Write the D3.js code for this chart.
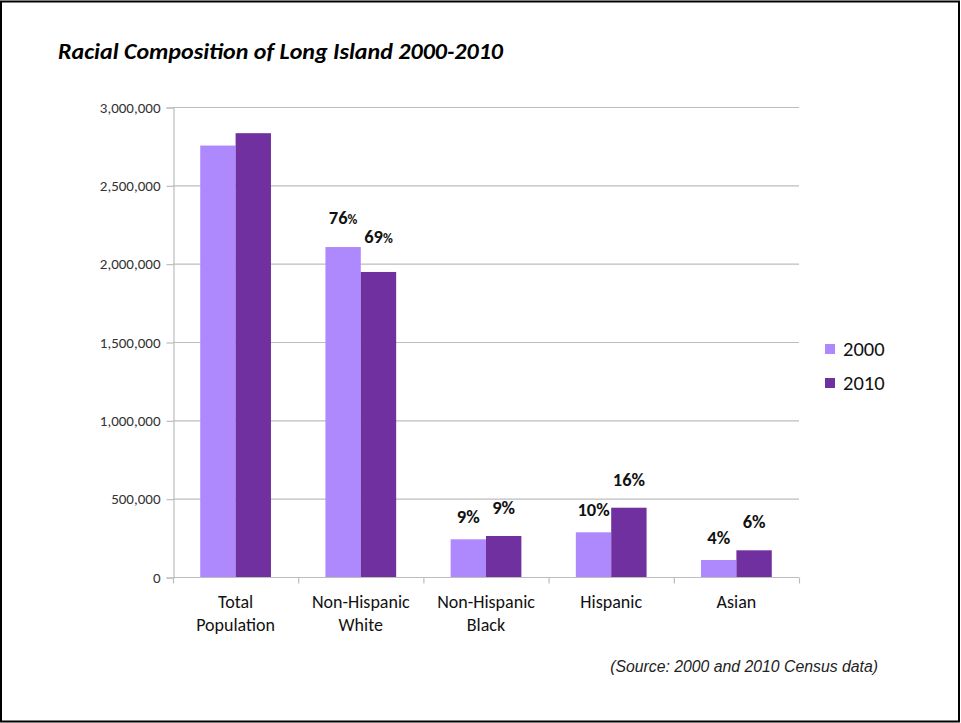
<!DOCTYPE html>
<html>
<head>
<meta charset="utf-8">
<script src="https://cdn.jsdelivr.net/npm/d3@7/dist/d3.min.js"></script>
<style>
html,body{margin:0;padding:0;background:#fff;}
svg{display:block;}
</style>
</head>
<body>
<svg id="chart" width="961" height="723"></svg>
<script>
const categories = [["Total","Population"],["Non-Hispanic","White"],["Non-Hispanic","Black"],["Hispanic"],["Asian"]];
const categoryKeys = ["Total Population","Non-Hispanic White","Non-Hispanic Black","Hispanic","Asian"];
const seriesNames = ["2000","2010"];
const values2000 = [2753913, 2106000, 240600, 285300, 108500];
const values2010 = [2832882, 1947000, 261700, 442300, 170400];
const labels2000 = [null, "76", "9%", "10%", "4%"];
const labels2010 = [null, "69", "9%", "16%", "6%"];
const yTicks = [0, 500000, 1000000, 1500000, 2000000, 2500000, 3000000];
const colors = ["#ae88fd", "#7030a0"];

(function(){
const svg = d3.select("#chart");
const W = 961, H = 723;
const font = "Carlito, Calibri, 'Open Sans', sans-serif";

// frame
svg.append("rect").attr("x",1).attr("y",1.5).attr("width",W-3).attr("height",H-3)
  .attr("fill","#fff").attr("stroke","#000").attr("stroke-width",2);

// title
svg.append("text").attr("x",58).attr("y",59)
  .attr("font-family",font).attr("font-style","italic").attr("font-weight","bold")
  .attr("font-size",22.5).attr("fill","#000")
  .attr("textLength",445).attr("lengthAdjust","spacingAndGlyphs")
  .text("Racial Composition of Long Island 2000-2010");

const pl = 173, pr = 799, pt = 107, pb = 577;
const x = d3.scaleBand().domain(categoryKeys).range([pl,pr]).paddingInner(0.435).paddingOuter(0.2175);
const x2 = d3.scaleBand().domain(seriesNames).range([0, x.bandwidth()]);
const y = d3.scaleLinear().domain([0,3000000]).range([pb, pt]);

// gridlines
svg.append("g").selectAll("line").data(yTicks.filter(d=>d>0)).join("line")
  .attr("x1",pl).attr("x2",pr).attr("y1",d=>y(d)+0.5).attr("y2",d=>y(d)+0.5)
  .attr("stroke","#bdbdbd").attr("stroke-width",1.2);

// y axis
const yAxis = d3.axisLeft(y).tickValues(yTicks).tickSize(7).tickPadding(6)
  .tickFormat(d3.format(","));
const gy = svg.append("g").attr("transform",`translate(${pl+0.5},0.5)`).call(yAxis);
gy.select(".domain").attr("stroke","#bdbdbd").attr("stroke-width",1.2);
gy.selectAll(".tick line").attr("stroke","#bdbdbd").attr("stroke-width",1.2);
gy.selectAll(".tick text").attr("font-family",font).attr("font-size",15).attr("fill","#333");

// bars
const data = categoryKeys.map((k,i)=>({key:k, vals:[values2000[i], values2010[i]], labs:[labels2000[i], labels2010[i]]}));
const groups = svg.append("g").selectAll("g").data(data).join("g")
  .attr("transform",d=>`translate(${x(d.key)},0)`);
groups.selectAll("rect").data(d=>d.vals.map((v,j)=>({v,j,s:seriesNames[j]}))).join("rect")
  .attr("x",d=>x2(d.s)).attr("width",x2.bandwidth())
  .attr("y",d=>y(d.v)).attr("height",d=>pb-y(d.v))
  .attr("fill",d=>colors[d.j]);

// x axis
const xAxisG = svg.append("g").attr("transform",`translate(0,${pb+0.5})`);
xAxisG.append("line").attr("x1",pl).attr("x2",pr).attr("stroke","#bdbdbd").attr("stroke-width",1.2);
const bounds = d3.range(categoryKeys.length+1).map(i=> pl + i*(pr-pl)/categoryKeys.length);
xAxisG.selectAll("line.t").data(bounds).join("line").attr("class","t")
  .attr("x1",d=>d+0.5).attr("x2",d=>d+0.5).attr("y1",0).attr("y2",6)
  .attr("stroke","#bdbdbd").attr("stroke-width",1.2);
xAxisG.selectAll("text").data(categories).join("text")
  .attr("font-family",font).attr("font-size",18).attr("fill","#111").attr("text-anchor","middle")
  .attr("transform",(d,i)=>`translate(${x(categoryKeys[i])+x.bandwidth()/2},0)`)
  .each(function(d){
    const t = d3.select(this);
    d.forEach((line,k)=>t.append("tspan").attr("x",0).attr("y",30+k*23).text(line));
  });

// labels
const labOff = [18, 24];
groups.selectAll("text.lab").data(d=>d.labs.map((l,j)=>({l,j,v:d.vals[j],s:seriesNames[j]})).filter(d=>d.l)).join("text")
  .attr("class","lab")
  .attr("x",d=>x2(d.s)+x2.bandwidth()/2)
  .attr("y",d=>y(d.v)-labOff[d.j]+ (d.l.endsWith("%")?2:-5))
  .attr("text-anchor","middle")
  .attr("font-family",font).attr("font-weight","bold").attr("font-size",18.5).attr("fill","#111")
  .each(function(d){
    const t = d3.select(this);
    if(d.l.endsWith("%")) t.text(d.l);
    else { t.append("tspan").text(d.l); t.append("tspan").attr("font-size",13.5).text("%"); }
  });

// legend
const lg = svg.append("g").attr("transform","translate(825,344)");
seriesNames.forEach((s,i)=>{
  lg.append("rect").attr("x",0).attr("y",i*34).attr("width",10).attr("height",10).attr("fill",colors[i]);
  lg.append("text").attr("x",18).attr("y",i*34+12).attr("font-family",font).attr("font-size",20.5).attr("fill","#111").text(s);
});

// source
svg.append("text").attr("x",878).attr("y",672).attr("text-anchor","end")
  .attr("font-family","'Liberation Sans', Arial, sans-serif").attr("font-style","italic")
  .attr("font-size",15.8).attr("fill","#222")
  .text("(Source: 2000 and 2010 Census data)");
})();
</script>
</body>
</html>
